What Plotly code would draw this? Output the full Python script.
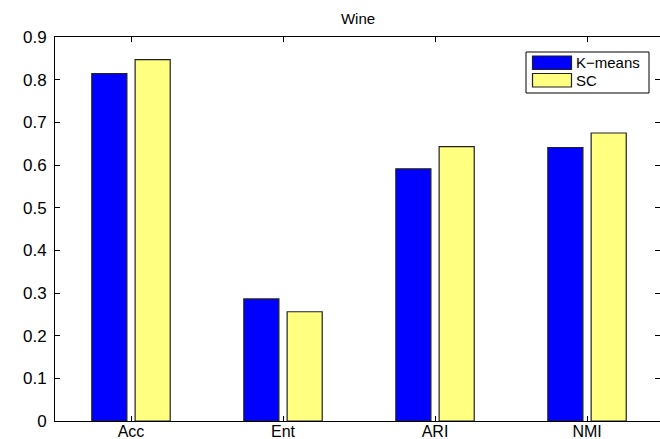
import plotly.graph_objects as go

# Clustering scores on the Wine data set
metrics = ["Acc", "Ent", "ARI", "NMI"]
kmeans_scores = [0.814, 0.286, 0.591, 0.641]
sc_scores = [0.847, 0.256, 0.643, 0.675]
series_names = ["K\u2212means", "SC"]

y_tickvals = [0, 0.1, 0.2, 0.3, 0.4, 0.5, 0.6, 0.7, 0.8, 0.9]
y_ticktext = ["0", "0.1", "0.2", "0.3", "0.4", "0.5", "0.6", "0.7", "0.8", "0.9"]

W, H = 660, 439
ML, MR, MT, MB = 55, 0, 37, 18
FONT = "Liberation Sans, Arial, Helvetica, sans-serif"
BLUE = "#0000FF"
YELLOW = "#FFFF80"
EDGE = "#222222"


def px_x(px):
    return (px - ML) / (W - ML - MR)


def px_y(py):
    return (H - MB - py) / (H - MT - MB)


fig = go.Figure()
fig.add_trace(go.Bar(x=metrics, y=kmeans_scores, name=series_names[0],
                     marker=dict(color=BLUE, line=dict(color=EDGE, width=1.2))))
fig.add_trace(go.Bar(x=metrics, y=sc_scores, name=series_names[1],
                     marker=dict(color=YELLOW, line=dict(color=EDGE, width=1.2))))
# empty trace that carries the right-hand tick axis
fig.add_trace(go.Scatter(x=[], y=[], yaxis="y2", showlegend=False, hoverinfo="skip"))

axis_common = dict(showgrid=False, zeroline=False, ticks="inside", ticklen=5,
                   tickwidth=1, tickcolor="black", linecolor="black", linewidth=1,
                   automargin=False,
                   tickfont=dict(family=FONT, size=17, color="black"))

fig.update_layout(
    width=W, height=H,
    margin=dict(l=ML, r=MR, t=MT, b=MB, pad=0, autoexpand=False),
    paper_bgcolor="white", plot_bgcolor="white",
    barmode="group", bargap=0.43, bargroupgap=0.19,
    showlegend=False,
    title=dict(text="Wine", x=358 / W, xanchor="center",
               y=1 - 19 / H, yanchor="middle", automargin=False,
               font=dict(family=FONT, size=15, color="black")),
    xaxis=dict(axis_common, type="category", range=[-0.5, 3.48], showline=True,
               mirror="ticks", ticklabelstandoff=-4,
               tickfont=dict(family=FONT, size=16, color="black")),
    yaxis=dict(axis_common, range=[0, 0.9], tickvals=y_tickvals, ticktext=y_ticktext,
               showline=True, mirror=False, ticklabelstandoff=4),
    yaxis2=dict(axis_common, overlaying="y", side="right", range=[0, 0.9],
                tickvals=y_tickvals, showticklabels=False, showline=False),
)

# legend box drawn as shapes and text
shapes = [
    dict(type="rect", xref="paper", yref="paper",
         x0=px_x(526), x1=px_x(649), y0=px_y(93), y1=px_y(52),
         line=dict(color="black", width=1), fillcolor="white", layer="above"),
    dict(type="rect", xref="paper", yref="paper",
         x0=px_x(532.5), x1=px_x(571.5), y0=px_y(69.5), y1=px_y(56),
         line=dict(color=EDGE, width=1.2), fillcolor=BLUE, layer="above"),
    dict(type="rect", xref="paper", yref="paper",
         x0=px_x(532.5), x1=px_x(571.5), y0=px_y(87), y1=px_y(73.5),
         line=dict(color=EDGE, width=1.2), fillcolor=YELLOW, layer="above"),
]
annotations = [
    dict(text=series_names[0], xref="paper", yref="paper", x=px_x(574), y=px_y(62.5),
         xanchor="left", yanchor="middle", showarrow=False,
         font=dict(family=FONT, size=15, color="black")),
    dict(text=series_names[1], xref="paper", yref="paper", x=px_x(574), y=px_y(80.5),
         xanchor="left", yanchor="middle", showarrow=False,
         font=dict(family=FONT, size=15, color="black")),
]
fig.update_layout(shapes=shapes, annotations=annotations)

fig.write_html("out.html")
